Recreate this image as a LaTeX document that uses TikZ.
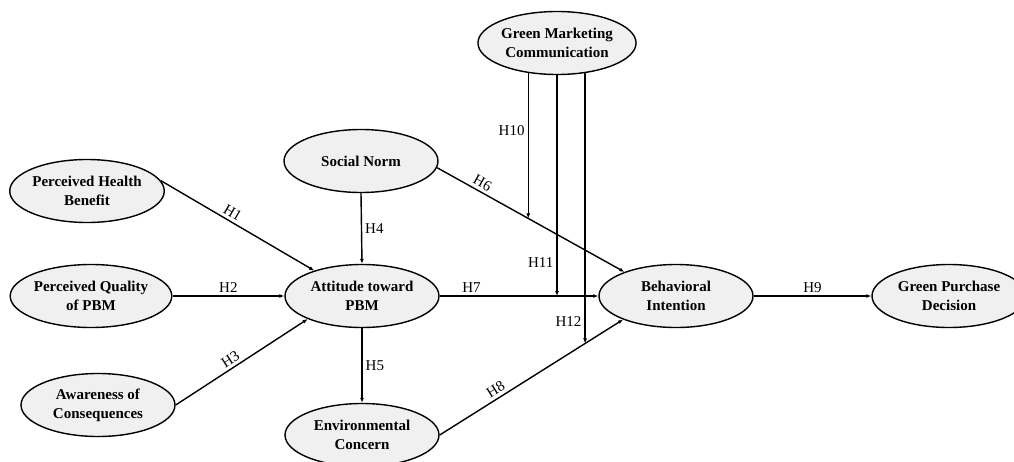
\documentclass[tikz,border=0pt]{standalone}
\usepackage{fontspec}
\setmainfont{Liberation Serif}
\usepackage{xcolor}
\usetikzlibrary{arrows.meta,calc,shapes.geometric}

\definecolor{ovalfill}{RGB}{240,240,240}

\begin{document}
\begin{tikzpicture}[x=1pt,y=-1pt,>={Latex[length=5pt,width=4pt]},
    construct/.style={ellipse,draw,line width=1.4pt,fill=ovalfill,minimum width=154pt,minimum height=63pt,inner sep=0pt,align=center,font=\fontsize{15}{19}\selectfont\bfseries},
    path/.style={->,line width=1.4pt},
    hyp/.style={font=\fontsize{15}{18}\selectfont,inner sep=3pt}]
      \useasboundingbox (0,0) rectangle (1014,461);
      % constructs
      \node[construct] (phb) at (87,191) {Perceived Health\\Benefit};
      \node[construct] (pqp) at (91,296) {Perceived Quality\\of PBM};
      \node[construct] (aoc) at (98,405) {Awareness of\\Consequences};
      \node[construct] (sn) at (361,161) {Social Norm};
      \node[construct] (att) at (362,296) {Attitude toward\\PBM};
      \node[construct] (ec) at (362,435) {Environmental\\Concern};
      \node[construct] (gmc) at (557,43) {Green Marketing\\Communication};
      \node[construct] (bi) at (676,296) {Behavioral\\Intention};
      \node[construct] (gpd) at (949,296) {Green Purchase\\Decision};
      % direct paths
      \draw[path] (phb.8) -- (att.152) node[pos=0.44,above,sloped,hyp]{H1};
      \draw[path] (pqp.east) -- (att.west) node[midway,above,hyp]{H2};
      \draw[path] (aoc.east) -- (att.203) node[pos=0.45,above,sloped,hyp]{H3};
      \draw[path] (sn.south) -- (att.north) node[midway,right,hyp]{H4};
      \draw[path] (att.south) -- (ec.north) node[midway,right,hyp]{H5};
      \draw[path] (sn.-5) -- (bi.155) node[pos=0.22,above,sloped,hyp]{H6};
      \draw[path] (att.east) -- (bi.west) node[pos=0.2,above,hyp]{H7};
      \draw[path] (ec.east) -- (bi.204) node[pos=0.33,above,sloped,hyp]{H8};
      \draw[path] (bi.east) -- (gpd.west) node[midway,above,hyp]{H9};
      % moderating paths
      \coordinate (m10) at ($(sn.-5)!0.487!(bi.155)$);
      \coordinate (m11) at (gmc.south |- bi.west);
      \coordinate (m12) at ($(ec.east)!0.793!(bi.204)$);
      \draw[path] ($(m10 |- gmc.south)+(0,-3)$) -- (m10) node[pos=0.4,left,hyp]{H10};
      \draw[path] (gmc.south) -- (m11) node[pos=0.85,left,hyp]{H11};
      \draw[path] ($(m12 |- gmc.south)+(0,-3)$) -- (m12) node[pos=0.92,left,hyp]{H12};
\end{tikzpicture}
\end{document}
